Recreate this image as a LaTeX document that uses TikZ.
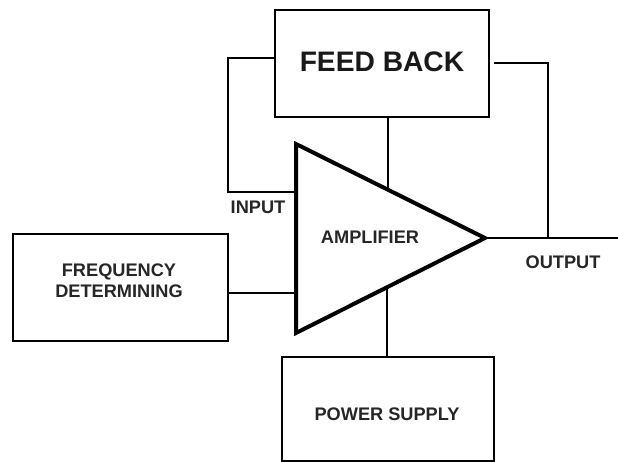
\documentclass[tikz,border=0pt]{standalone}
\usepackage{fontspec}
\setmainfont{Liberation Sans}
\begin{document}
\begin{tikzpicture}[x=1pt,y=-1pt,
  blk/.style={draw,line width=1.8pt,rectangle,inner sep=0pt},
  wire/.style={line width=1.8pt},
  lbl/.style={font=\fontsize{18.2}{21}\selectfont\bfseries,text=black!85,inner sep=0pt,align=center},
  biglbl/.style={font=\fontsize{28.2}{32}\selectfont\bfseries,text=black!90,inner sep=0pt}]
\useasboundingbox (0,0) rectangle (618,462);
\fill[white] (0,0) rectangle (618,462);
% boxes
\node[blk,minimum width=214pt,minimum height=107pt] (fb) at (382,63.5) {};
\node[biglbl] (fbt) at (382,62) {FEED BACK};
\node[blk,minimum width=215pt,minimum height=107pt] (fd) at (120.5,287.5) {};
\node[lbl] (fdt) at (119,281) {FREQUENCY\\DETERMINING};
\node[blk,minimum width=212pt,minimum height=104pt] (ps) at (388,409) {};
\node[lbl] (pst) at (387,414) {POWER SUPPLY};
% amplifier triangle
\coordinate (A) at (296,144);
\coordinate (B) at (296,333);
\coordinate (C) at (485,238);
\draw[line width=4pt,line join=miter] (A) -- (C) -- (B) -- cycle;
\node[lbl] (amp) at (370,237) {AMPLIFIER};
\node[lbl] (inl) at (258,207) {INPUT};
\node[lbl] (outl) at (563,262) {OUTPUT};
% connectors
\coordinate (in1) at (228,58);
\coordinate (in2) at (228,192);
\draw[wire] (fb.west |- in1) -- (in1) -- (in2) -- (in2 -| A);
\coordinate (o1) at (494,63);
\coordinate (o2) at (548,63);
\coordinate (oend) at (618,238);
\draw[wire] (o1) -- (o2) -- (o2 |- C);
\draw[wire] (C) -- (oend);
\coordinate (fbx) at (388,117);
\draw[wire] (fbx) -- (intersection of A--C and fbx--{388,300});
\coordinate (psx) at (387,357);
\draw[wire] (psx) -- (intersection of B--C and psx--{387,200});
\coordinate (fdy) at (228,293);
\draw[wire] (fdy) -- (fdy -| A);
\end{tikzpicture}
\end{document}
